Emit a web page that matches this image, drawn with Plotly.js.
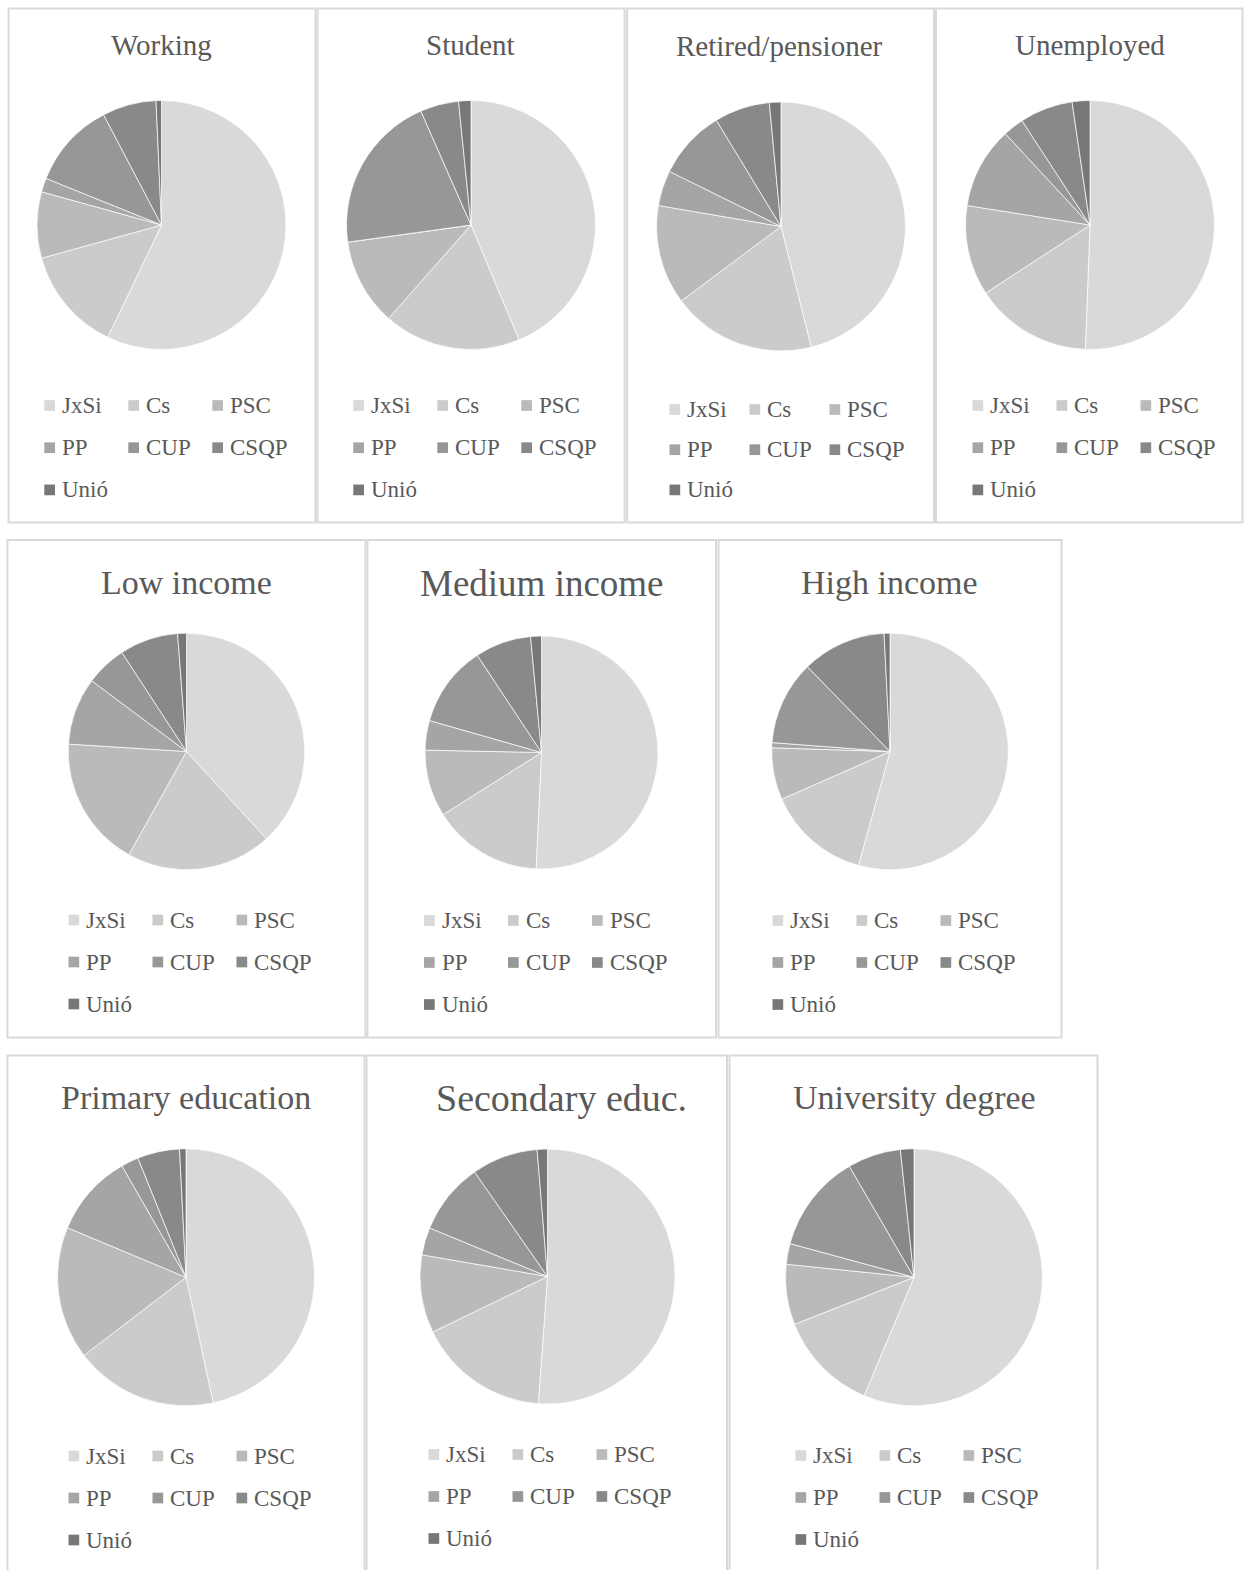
<!DOCTYPE html>
<html>
<head>
<meta charset="utf-8">
<script src="https://cdn.plot.ly/plotly-3.0.1.min.js"></script>
<style>
  html, body { margin: 0; padding: 0; background: #ffffff; }
  #chart { width: 1244px; height: 1570px; }
</style>
</head>
<body>
<div id="chart"></div>
<script>
// Parties, in slice / legend order
const parties = ['JxSi', 'Cs', 'PSC', 'PP', 'CUP', 'CSQP', 'Unió'];

// Group titles
const groupTitles = [
  'Working', 'Student', 'Retired/pensioner', 'Unemployed',
  'Low income', 'Medium income', 'High income',
  'Primary education', 'Secondary educ.', 'University degree'
];

// Vote shares (%) per group, same order as parties
const working       = [57.1, 13.6,  8.6,  1.8, 11.2,  7.0, 0.7];
const student       = [43.7, 17.8, 11.3,  0.0, 20.6,  5.0, 1.6];
const retired       = [46.1, 18.7, 12.9,  4.6,  9.0,  7.2, 1.5];
const unemployed    = [50.6, 15.2, 11.7, 10.6,  2.7,  6.9, 2.3];
const lowIncome     = [38.2, 19.9, 17.9,  9.2,  5.6,  8.0, 1.2];
const mediumIncome  = [50.8, 15.3,  9.3,  4.1, 11.3,  7.8, 1.5];
const highIncome    = [54.3, 14.1,  7.1,  0.7, 11.5, 11.5, 0.8];
const primaryEdu    = [46.6, 18.0, 16.7, 10.4,  2.2,  5.3, 0.8];
const secondaryEdu  = [51.2, 16.7,  9.9,  3.5,  9.1,  8.4, 1.3];
const universityDeg = [56.4, 12.7,  7.6,  2.6, 12.4,  6.7, 1.7];

const groupValues = [
  working, student, retired, unemployed,
  lowIncome, mediumIncome, highIncome,
  primaryEdu, secondaryEdu, universityDeg
];

// Grey ramp, light to dark
const sliceColors = ['#d9d9d9', '#cbcbcb', '#bababa', '#a5a5a5', '#979797', '#898989', '#777777'];

const FONT = 'Liberation Serif, Times New Roman, serif';
const TEXT_COLOR = '#595959';
const W = 1244, H = 1570;
const px = x => x / W;
const py = y => 1 - y / H;

// Page layout in pixels:
// box = frame [x0, y0, x1, y1], pie = [cx, cy, r],
// title = [cx, cy, size], legend = [first marker x, first row y, column step, row step]
const panels = [
  {box: [8.5, 8.5, 315.5, 522.5],    pie: [161.5, 225, 124.5],   title: [161.5, 45, 29],    legend: [44.3, 405.5, 84, 42.2]},
  {box: [317.5, 8.5, 624.5, 522.5],  pie: [471, 225, 124.5],     title: [470.5, 45, 29],    legend: [353.3, 405.5, 84, 42.2]},
  {box: [627, 8.5, 934, 522.5],      pie: [781, 226.5, 124.5],   title: [780, 45.5, 29],    legend: [669.5, 409.5, 80, 40.2]},
  {box: [936, 8.5, 1242.5, 522.5],   pie: [1090, 225, 124.5],    title: [1089.5, 45, 29],   legend: [972.5, 405.5, 84, 42.2]},
  {box: [7.5, 540, 365.5, 1037.5],   pie: [186.5, 751.5, 118.3], title: [186, 582.5, 34],   legend: [68.5, 920, 84, 42]},
  {box: [367.5, 540, 716, 1037.5],   pie: [541.5, 752.5, 116.5], title: [541.5, 583, 37],   legend: [424, 920.5, 84, 42]},
  {box: [718.5, 540, 1061.5, 1037.5],pie: [890, 751.5, 118.3],   title: [889, 582.5, 34],   legend: [772.5, 920.5, 84, 42]},
  {box: [7.5, 1055.5, 364.5, 1580],  pie: [186, 1277.3, 128.5],  title: [185.5, 1097.5, 34],legend: [68.5, 1456, 84, 42]},
  {box: [366.5, 1055.5, 727, 1580],  pie: [547.5, 1276.5, 127.5],title: [561, 1097.5, 38],  legend: [428.5, 1454.5, 84, 42]},
  {box: [729.5, 1055.5, 1097.5, 1580],pie: [914, 1277.3, 128.5], title: [914.5, 1097.5, 34],legend: [795.5, 1455.5, 84, 42]}
];

const MARK = 10.7;       // legend swatch size
const TEXT_OFFSET = 15.5; // swatch left edge to label start

const traces = [];
const shapes = [];
const annotations = [];

panels.forEach((p, g) => {
  const [cx, cy, r] = p.pie;

  // frame
  shapes.push({
    type: 'rect', xref: 'paper', yref: 'paper', layer: 'below',
    x0: px(p.box[0]), x1: px(p.box[2]), y0: py(p.box[3]), y1: py(p.box[1]),
    line: {color: '#d9d9d9', width: 2}, fillcolor: 'rgba(0,0,0,0)'
  });

  // pie
  traces.push({
    type: 'pie',
    labels: parties,
    values: groupValues[g],
    sort: false,
    direction: 'clockwise',
    rotation: 0,
    textinfo: 'none',
    hoverinfo: 'label+percent',
    showlegend: false,
    marker: {colors: sliceColors, line: {color: '#ffffff', width: 0.7}},
    domain: {x: [px(cx - r), px(cx + r)], y: [py(cy + r), py(cy - r)]}
  });

  // title
  annotations.push({
    xref: 'paper', yref: 'paper', x: px(p.title[0]), y: py(p.title[1]),
    xanchor: 'center', yanchor: 'middle', showarrow: false,
    text: groupTitles[g],
    font: {family: FONT, size: p.title[2], color: TEXT_COLOR}
  });

  // legend: three columns, row-major
  const [lx, ly, colStep, rowStep] = p.legend;
  parties.forEach((name, i) => {
    const col = i % 3, row = Math.floor(i / 3);
    const mx = lx + col * colStep;
    const my = ly + row * rowStep;
    shapes.push({
      type: 'rect', xref: 'paper', yref: 'paper',
      x0: px(mx), x1: px(mx + MARK), y0: py(my + MARK / 2), y1: py(my - MARK / 2),
      line: {width: 0}, fillcolor: sliceColors[i]
    });
    annotations.push({
      xref: 'paper', yref: 'paper', x: px(mx + TEXT_OFFSET), y: py(my),
      xanchor: 'left', yanchor: 'middle', showarrow: false,
      text: name,
      font: {family: FONT, size: 23, color: TEXT_COLOR}
    });
  });
});

const layout = {
  width: W, height: H,
  margin: {l: 0, r: 0, t: 0, b: 0},
  paper_bgcolor: '#ffffff',
  plot_bgcolor: '#ffffff',
  showlegend: false,
  shapes: shapes,
  annotations: annotations
};

Plotly.newPlot('chart', traces, layout, {displayModeBar: false, staticPlot: false});
</script>
</body>
</html>
